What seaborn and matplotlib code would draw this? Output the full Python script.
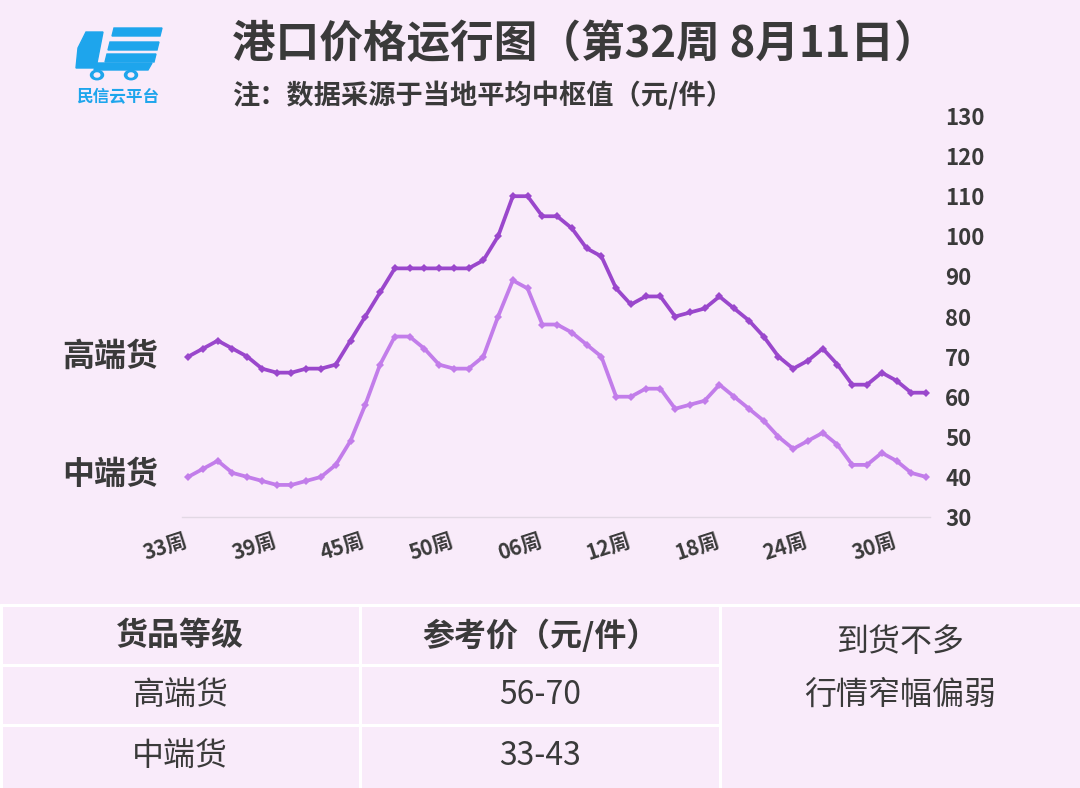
import numpy as np
import pandas as pd
import matplotlib.pyplot as plt
import matplotlib.transforms as mtransforms
import seaborn as sns
from matplotlib.lines import Line2D
from matplotlib.patches import Circle, Polygon

# weekly prices (元/件), 33周 of last year .. 32周 of this year
high_end = [70, 72, 74, 72, 70, 67, 66, 66, 67, 67, 68, 74, 80, 86, 92, 92, 92, 92, 92,
            92, 94, 100, 110, 110, 105, 105, 102, 97, 95, 87, 83, 85, 85, 80, 81, 82,
            85, 82, 79, 75, 70, 67, 69, 72, 68, 63, 63, 66, 64, 61, 61]
mid_end = [40, 42, 44, 41, 40, 39, 38, 38, 39, 40, 43, 49, 58, 68, 75, 75, 72, 68, 67,
           67, 70, 80, 89, 87, 78, 78, 76, 73, 70, 60, 60, 62, 62, 57, 58, 59, 63, 60,
           57, 54, 50, 47, 49, 51, 48, 43, 43, 46, 44, 41, 40]
tick_labels = ['33周', '39周', '45周', '50周', '06周', '12周', '18周', '24周', '30周']
grades = ['高端货', '中端货']
table_header = ['货品等级', '参考价（元/件）']
table_rows = [['高端货', '56-70'], ['中端货', '33-43']]
comment = ['到货不多', '行情窄幅偏弱']

BG = '#F9EBFA'
TXT = '#3A3A3A'
colors = {'高端货': '#9A47CC', '中端货': '#C27DEA'}
BLUE = '#1EA5EC'

sns.set_theme(style='white')
plt.rcParams['font.family'] = ['Noto Sans CJK SC', 'DejaVu Sans']

n = len(high_end)
df = pd.DataFrame({
    'idx': list(range(n)) * 2,
    'price': high_end + mid_end,
    'grade': ['高端货'] * n + ['中端货'] * n,
})

W, H = 1080, 788
fig = plt.figure(figsize=(W / 100, H / 100), dpi=100, facecolor=BG)


def fx(x):
    return x / W


def fy(y):
    return 1 - y / H


ax = fig.add_axes([fx(182), fy(517), fx(930) - fx(182), fy(116) - fy(517)])
ax.set_facecolor(BG)
sns.lineplot(data=df, x='idx', y='price', hue='grade', palette=colors,
             hue_order=grades, marker='D', markersize=4.5, markeredgewidth=0,
             linewidth=2.7, legend=False, ax=ax)

ax.set_xlim(-0.42, n - 1 + 0.27)
ax.set_ylim(30, 130)
ax.set_yticks(range(30, 131, 10))
ax.yaxis.tick_right()
ax.tick_params(axis='y', length=0, pad=11, labelsize=16, labelcolor=TXT)
for t in ax.get_yticklabels():
    t.set_fontweight('bold')
ax.set_xticks(range(0, n, 6))
ax.set_xticklabels(tick_labels, rotation=18, ha='right', rotation_mode='anchor',
                   fontsize=15, fontweight='bold', color=TXT)
ax.tick_params(axis='x', length=0, pad=9)
shift = mtransforms.ScaledTranslation(-4 / 100, 0, fig.dpi_scale_trans)
for t in ax.get_xticklabels():
    t.set_transform(t.get_transform() + shift)
ax.set_xlabel('')
ax.set_ylabel('')
for s in ['top', 'left', 'right']:
    ax.spines[s].set_visible(False)
ax.spines['bottom'].set_color('#E2D8E4')
ax.spines['bottom'].set_linewidth(1)

# series names at the left of the lines
ax.text(-2.0, high_end[0], grades[0], ha='right', va='center', fontsize=23,
        fontweight='bold', color=TXT, clip_on=False)
ax.text(-2.0, mid_end[0] + 0.5, grades[1], ha='right', va='center', fontsize=23,
        fontweight='bold', color=TXT, clip_on=False)

# title block
fig.text(fx(232), fy(44), '港口价格运行图（第32周 8月11日）', ha='left', va='center',
         fontsize=31.4, fontweight='bold', color=TXT)
fig.text(fx(232), fy(96), '注：数据采源于当地平均中枢值（元/件）', ha='left', va='center',
         fontsize=19.6, fontweight='bold', color=TXT)

# logo (rough truck shape)
fig.add_artist(Polygon([(fx(86), fy(32)), (fx(103), fy(32)), (fx(96), fy(68)), (fx(76), fy(68)),
                        (fx(78), fy(48))],
                       closed=True, color=BLUE, transform=fig.transFigure))
for y0, x0, x1 in [(28, 112, 160), (42, 108, 157), (54, 105, 154)]:
    fig.add_artist(Polygon([(fx(x0 + 2), fy(y0)), (fx(x1 + 2), fy(y0)),
                            (fx(x1), fy(y0 + 8)), (fx(x0), fy(y0 + 8))],
                           closed=True, color=BLUE, transform=fig.transFigure))
fig.add_artist(Polygon([(fx(96), fy(63)), (fx(152), fy(63)), (fx(148), fy(70)), (fx(94), fy(70))],
                       closed=True, color=BLUE, transform=fig.transFigure))
for cx in [97, 131]:
    fig.add_artist(Circle((fx(cx), fy(75)), 6.5 / W, color=BLUE, transform=fig.transFigure))
    fig.add_artist(Circle((fx(cx), fy(75)), 2.8 / W, color=BG, transform=fig.transFigure))
fig.text(fx(118), fy(97), '民信云平台', ha='center', va='center', fontsize=12,
         fontweight='bold', color=BLUE)

# table
lw = 2.2
fig.add_artist(Line2D([0, 1], [fy(605), fy(605)], color='white', lw=lw))
fig.add_artist(Line2D([0, fx(720)], [fy(665), fy(665)], color='white', lw=lw))
fig.add_artist(Line2D([0, fx(720)], [fy(725), fy(725)], color='white', lw=lw))
fig.add_artist(Line2D([fx(360), fx(360)], [0, fy(605)], color='white', lw=lw))
fig.add_artist(Line2D([fx(720), fx(720)], [0, fy(605)], color='white', lw=lw))
fig.add_artist(Line2D([fx(1), fx(1)], [0, fy(605)], color='white', lw=lw))

col_x = [180, 540]
row_y = [636, 695, 756]
for j, h in enumerate(table_header):
    fig.text(fx(col_x[j]), fy(row_y[0]), h, ha='center', va='center', fontsize=23,
             fontweight='bold', color=TXT)
for i, row in enumerate(table_rows):
    for j, cell in enumerate(row):
        fig.text(fx(col_x[j]), fy(row_y[i + 1]), cell, ha='center', va='center',
                 fontsize=23, color=TXT)
fig.text(fx(900), fy(642), comment[0], ha='center', va='center', fontsize=23, color=TXT)
fig.text(fx(900), fy(695), comment[1], ha='center', va='center', fontsize=23, color=TXT)

fig.savefig('out.png', dpi=100, facecolor=BG)
